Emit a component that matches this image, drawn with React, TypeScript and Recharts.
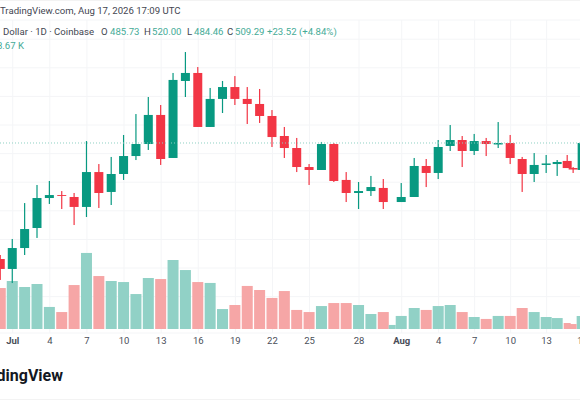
import { ComposedChart, Bar, Cell, XAxis, YAxis, CartesianGrid, ReferenceLine } from "recharts";

// candle slots, counted from Jul 1 (the picture is squeezed a bit after Jul 31)
const slots = [
  -0.97, 0, 1, 2, 3, 4, 5, 6, 7, 8, 9, 10, 11, 12, 13, 14, 15, 16, 17, 18, 19, 20, 21, 22, 23, 24, 25, 26, 27, 28, 29, 30,
  30.72, 31.45, 32.5, 33.47, 34.44, 35.41, 36.38, 37.35, 38.32, 39.29, 40.26, 41.23, 42.2, 43.17, 44.06, 44.87, 45.35, 46.08,
];
const opens = [
  407.9, 399.2, 417.5, 435.0, 461.2, 463.8, 462.1, 453.4, 483.9, 466.5, 482.2, 497.9, 508.4, 533.8, 496.2, 563.5, 570.5, 523.3, 547.8, 558.2, 547.8, 543.4, 532.9, 515.4, 504.9, 488.3, 485.7, 508.4, 477.0, 465.6, 467.3, 470.0,
  null, 457.7, 462.1, 489.2, 483.1, 506.7, 511.9, 502.3, 511.0, 508.0, 509.3, 495.3, 482.2, 490.1, 490.9, 493.6, 487.4, 485.73,
];
const highs = [
  411.4, 425.4, 456.8, 472.6, 476.1, 467.3, 465.6, 511.0, 490.9, 497.1, 516.3, 534.6, 549.5, 542.5, 570.5, 588.8, 575.7, 557.4, 563.5, 567.8, 558.2, 556.5, 538.1, 523.3, 513.7, 490.9, 510.2, 509.3, 483.9, 475.2, 480.5, 477.8,
  null, 474.3, 496.2, 495.3, 511.9, 525.0, 515.4, 517.2, 513.7, 527.6, 516.3, 497.1, 500.5, 498.8, 494.4, 498.8, 488.3, 520.0,
];
const lows = [
  389.6, 386.9, 411.4, 426.3, 456.0, 451.6, 437.6, 444.6, 452.5, 455.1, 477.0, 494.4, 503.2, 490.1, 496.2, 549.5, 523.3, 523.3, 535.5, 542.5, 525.9, 526.8, 505.8, 496.2, 483.9, 472.6, 485.7, 475.2, 457.7, 451.6, 463.0, 451.6,
  null, 457.7, 462.1, 470.8, 477.8, 502.3, 488.3, 498.8, 497.9, 504.9, 490.9, 466.5, 475.2, 483.1, 480.5, 487.4, 483.1, 484.46,
];
const closes = [
  399.2, 417.5, 434.1, 461.2, 463.8, 463.0, 453.4, 483.9, 465.6, 482.2, 497.9, 508.4, 533.8, 495.3, 564.4, 570.5, 523.3, 547.8, 558.2, 547.8, 543.4, 532.9, 514.5, 504.9, 488.3, 485.7, 508.4, 476.1, 465.6, 467.3, 470.8, 457.7,
  null, 462.1, 489.2, 483.1, 505.8, 511.9, 502.3, 511.0, 508.4, 509.3, 496.2, 482.2, 490.1, 491.4, 492.7, 487.4, 486.1, 509.29,
];
// thousands
const volumes = [
  27.3, 32.0, 28.0, 30.0, 14.7, 11.3, 29.3, 50.7, 35.3, 32.0, 31.3, 23.3, 34.0, 33.3, 46.0, 39.3, 31.3, 30.7, 13.3, 16.0, 28.7, 26.0, 20.7, 25.3, 12.7, 11.3, 15.3, 17.3, 17.3, 16.0, 10.0, 11.3,
  2.7, 8.7, 14.0, 12.7, 15.3, 16.0, 11.3, 8.0, 6.7, 8.7, 8.7, 14.0, 11.3, 8.0, 7.3, 4.0, 3.3, 8.67,
];
// slots where the volume bar is narrower than the others
const thinSlots = [30.72, 44.87, 45.35];

const tickSlots = [0, 3, 6, 9, 12, 15, 18, 21, 24, 28, 31.45, 34.44, 37.35, 40.26, 43.17, 46.08];
const tickLabels = ["Jul", "4", "7", "10", "13", "16", "19", "22", "25", "28", "Aug", "4", "7", "10", "13", "16"];
const priceTicks = [616.79, 600, 575, 550, 525, 500, 475, 450, 425, 400, 375];
const lastPrice = 509.29;

const UP = "#089981";
const DOWN = "#f23645";
const UP_VOL = "#91d1c6";
const DOWN_VOL = "#f6a6a6";

const isUp = (i: number) => closes[i] === null || (closes[i] as number) >= (opens[i] as number);

const rows = slots.map((slot, i) => ({
  slot,
  wick: highs[i] === null ? null : [lows[i], highs[i]],
  body: opens[i] === null ? null : [Math.min(opens[i] as number, closes[i] as number), Math.max(opens[i] as number, closes[i] as number)],
  vol: thinSlots.includes(slot) ? null : volumes[i],
  thinVol: thinSlots.includes(slot) ? volumes[i] : null,
}));

// the slots sit too close for barSize on a number axis, so the width is set here around the slot's centre
const barShape = (w: number) => (p: any) => {
  if (!p.height || p.height <= 0) return <g />;
  return <rect x={p.x + p.width / 2 - w / 2} y={p.y} width={w} height={p.height} fill={p.fill} />;
};

const DateTick = (props: any) => {
  const label = tickLabels[tickSlots.indexOf(props.payload.value)];
  const month = label === "Jul" || label === "Aug";
  return (
    <text x={props.x} y={344} textAnchor="middle" fontFamily="Roboto" fontSize={9.5} fontWeight={month ? 700 : 400} fill="#4a4e59">
      {label}
    </text>
  );
};

const head = { position: "absolute", fontFamily: "Roboto", fontSize: 9.6, lineHeight: "14px", whiteSpace: "nowrap" } as const;
const GREY = "#434651";
const TEAL = "#45ab97";

const legend: [number, string, string][] = [
  [3, "Dollar · 1D · Coinbase", GREY],
  [101, "O", GREY],
  [110, "485.73", TEAL],
  [144, "H", GREY],
  [152, "520.00", TEAL],
  [187, "L", GREY],
  [194, "484.46", TEAL],
  [227, "C", GREY],
  [235, "509.29", TEAL],
  [267, "+23.52 (+4.84%)", TEAL],
];

const xDomain = [-2, 47];
const priceDomain = [343.23, 616.79];
const volDomain = [-2.67, 206];

export default function App() {
  return (
    <div style={{ position: "absolute", left: 0, top: 0, width: 580, height: 400, overflow: "hidden", background: "#fff", boxShadow: "inset 0 1px #f3f3f3, inset 0 -1px #f3f3f3" }}>
      <div style={{ position: "absolute", left: -12, top: 0 }}>
        <ComposedChart width={606} height={400} data={rows} margin={{ top: 20, right: 0, bottom: 55, left: 0 }}>
          <CartesianGrid stroke="#f4f5f7" xAxisId="vol" yAxisId="price" />
          <XAxis
            xAxisId="vol"
            dataKey="slot"
            type="number"
            domain={xDomain}
            ticks={tickSlots}
            interval={0}
            height={12}
            axisLine={false}
            tickLine={false}
            tick={<DateTick />}
          />
          <XAxis xAxisId="thin" dataKey="slot" type="number" domain={xDomain} hide />
          <XAxis xAxisId="wick" dataKey="slot" type="number" domain={xDomain} hide />
          <XAxis xAxisId="body" dataKey="slot" type="number" domain={xDomain} hide />
          <YAxis yAxisId="price" domain={priceDomain} ticks={priceTicks} hide />
          <YAxis yAxisId="volume" domain={volDomain} hide />
          <ReferenceLine xAxisId="vol" yAxisId="price" y={lastPrice} stroke="#8fd0c3" strokeDasharray="1 2" />
          <Bar xAxisId="vol" yAxisId="volume" dataKey="vol" barSize={1} shape={barShape(11)} isAnimationActive={false}>
            {rows.map((row, i) => (
              <Cell key={`vol-${row.slot}`} fill={isUp(i) ? UP_VOL : DOWN_VOL} />
            ))}
          </Bar>
          <Bar xAxisId="thin" yAxisId="volume" dataKey="thinVol" barSize={1} shape={barShape(7)} isAnimationActive={false}>
            {rows.map((row, i) => (
              <Cell key={`thin-${row.slot}`} fill={isUp(i) ? UP_VOL : DOWN_VOL} />
            ))}
          </Bar>
          <Bar xAxisId="wick" yAxisId="price" dataKey="wick" barSize={1} shape={barShape(1.2)} isAnimationActive={false}>
            {rows.map((row, i) => (
              <Cell key={`wick-${row.slot}`} fill={isUp(i) ? UP : DOWN} />
            ))}
          </Bar>
          <Bar xAxisId="body" yAxisId="price" dataKey="body" barSize={1} shape={barShape(9)} isAnimationActive={false}>
            {rows.map((row, i) => (
              <Cell key={`body-${row.slot}`} fill={isUp(i) ? UP : DOWN} />
            ))}
          </Bar>
        </ComposedChart>
      </div>
      <div style={{ ...head, left: 0, top: 4, color: GREY }}>TradingView.com, Aug 17, 2026 17:09 UTC</div>
      {legend.map(([left, text, color]) => (
        <div key={left} style={{ ...head, left, top: 25, color }}>
          {text}
        </div>
      ))}
      <div style={{ ...head, right: 556, top: 39, color: TEAL }}>8.67 K</div>
      <div style={{ position: "absolute", right: 517, top: 365, fontFamily: "Roboto", fontSize: 16, fontWeight: 700, lineHeight: "22px", color: "#131722", whiteSpace: "nowrap" }}>
        TradingView
      </div>
    </div>
  );
}
